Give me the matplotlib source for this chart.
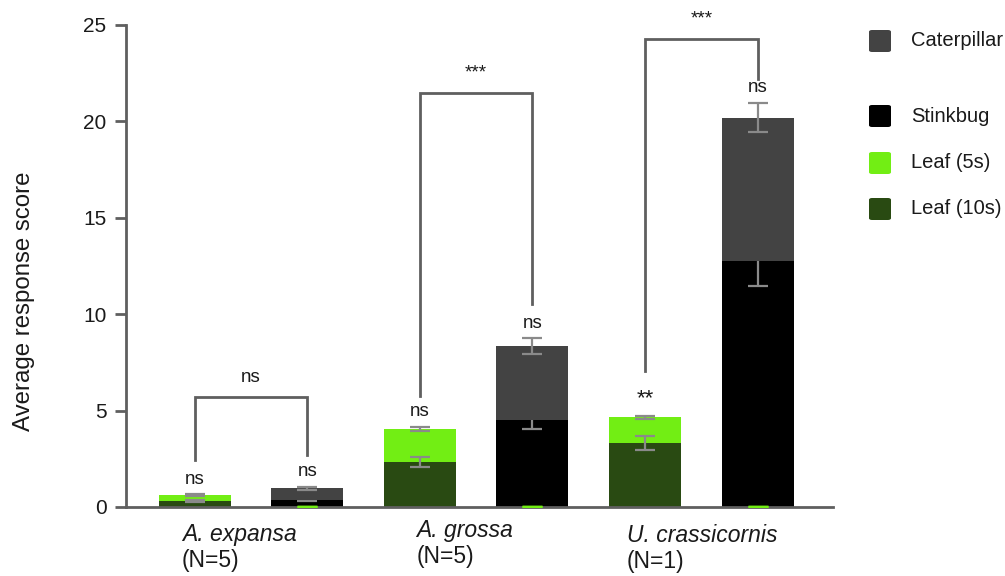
"""
Stacked bar chart of average response scores per species, with
leaf controls vs predator cues and significance brackets.
"""

import matplotlib
matplotlib.use("Agg")
import matplotlib.pyplot as plt
from matplotlib.patches import FancyBboxPatch

plt.rcParams['font.family'] = ['Liberation Sans', 'DejaVu Sans']

# --- data -------------------------------------------------------------
species = ["A. expansa", "A. grossa", "U. crassicornis"]
sample_sizes = ["(N=5)", "(N=5)", "(N=1)"]

# leaf control bar (stacked: 10s at bottom, 5s on top)
leaf10 = [0.30, 2.35, 3.32]
leaf10_err = [0.05, 0.25, 0.34]
leaf5 = [0.30, 1.69, 1.34]
leaf5_err = [0.05, 0.10, 0.08]

# predator bar (stacked: stinkbug at bottom, caterpillar on top)
stinkbug = [0.38, 4.50, 12.75]
stinkbug_err = [0.05, 0.47, 1.30]
caterpillar = [0.60, 3.84, 7.45]
caterpillar_err = [0.08, 0.41, 0.75]

# significance: (text, bracket top, left leg end, right leg end)
bracket_labels = ["ns", "***", "***"]
bracket_top = [5.70, 21.45, 24.25]
bracket_left_end = [2.43, 5.75, 7.05]
bracket_right_end = [2.70, 10.55, 22.20]
leaf_marks = ["ns", "ns", "**"]
predator_marks = ["ns", "ns", "ns"]

# --- styling ----------------------------------------------------------
C_CAT = "#434343"
C_STINK = "#000000"
C_LEAF5 = "#72ee14"
C_LEAF10 = "#294a12"
C_ERR = "#8a8a8a"
C_AXIS = "#5f5f5f"
C_TEXT = "#1a1a1a"
BAR_W = 0.64

fig = plt.figure(figsize=(10.05, 5.76), dpi=100)
ax = fig.add_axes([0.1254, 0.1198, 0.7035, 0.8368])

x_leaf = [2 * i for i in range(len(species))]
x_pred = [2 * i + 1 for i in range(len(species))]
leaf_top = [a + b for a, b in zip(leaf10, leaf5)]
pred_top = [a + b for a, b in zip(stinkbug, caterpillar)]

# leaf bars
ax.bar(x_leaf, leaf10, width=BAR_W, color=C_LEAF10, zorder=1)
ax.bar(x_leaf, leaf5, width=BAR_W, bottom=leaf10, color=C_LEAF5, zorder=1)
err_kw = dict(fmt='none', ecolor=C_ERR, elinewidth=1.6, capsize=7.5, capthick=1.6)
ax.errorbar(x_leaf, leaf10, yerr=leaf10_err, zorder=3, **err_kw)
ax.errorbar(x_leaf, leaf_top, yerr=leaf5_err, zorder=3, **err_kw)

# predator bars
ax.bar(x_pred, stinkbug, width=BAR_W, color=C_STINK, zorder=1)
ax.errorbar(x_pred, stinkbug, yerr=stinkbug_err, zorder=1.5, **err_kw)
ax.bar(x_pred, caterpillar, width=BAR_W, bottom=stinkbug, color=C_CAT, zorder=2)
ax.errorbar(x_pred, pred_top, yerr=caterpillar_err, zorder=3, **err_kw)
# zero-height leaf entry on predator bars shows only as a green cap
ax.errorbar(x_pred, [0] * len(x_pred), yerr=[0] * len(x_pred), fmt='none',
            ecolor=C_LEAF5, elinewidth=0, capsize=7.5, capthick=2.5, zorder=3)

# significance brackets
for i in range(len(species)):
    xl, xr = x_leaf[i], x_pred[i]
    ax.plot([xl, xl, xr, xr],
            [bracket_left_end[i], bracket_top[i], bracket_top[i], bracket_right_end[i]],
            color=C_AXIS, lw=2, solid_joinstyle='miter', clip_on=False, zorder=4)
    ax.text((xl + xr) / 2, bracket_top[i] + 0.6, bracket_labels[i],
            ha='center', va='bottom', fontsize=13.5, color=C_TEXT, clip_on=False)

for i in range(len(species)):
    ax.text(x_leaf[i], leaf_top[i] + leaf5_err[i] + 0.35, leaf_marks[i],
            ha='center', va='bottom', color=C_TEXT,
            fontsize=13.5 if leaf_marks[i] == "ns" else 16)
    ax.text(x_pred[i], pred_top[i] + caterpillar_err[i] + 0.35, predator_marks[i],
            ha='center', va='bottom', fontsize=13.5, color=C_TEXT)

# axes
ax.set_xlim(-0.61, 5.67)
ax.set_ylim(0, 25)
ax.set_yticks([0, 5, 10, 15, 20, 25])
ax.set_xticks([])
for side in ["top", "right"]:
    ax.spines[side].set_visible(False)
for side in ["left", "bottom"]:
    ax.spines[side].set_color(C_AXIS)
    ax.spines[side].set_linewidth(2)
ax.tick_params(axis='y', length=8, width=2, color=C_AXIS, labelsize=15,
               labelcolor=C_TEXT, pad=6)

fig.text(24 / 1005, 1 - 301 / 576, "Average response score", rotation=90,
         ha='center', va='center', fontsize=17.3, color=C_TEXT)

# category labels: italic species name over sample size
label_x = [-0.115, 1.97, 3.84]
line1_px = [541, 537, 542]   # baseline, pixels from top
line2_px = [567, 563, 568]
trans = ax.get_xaxis_transform()
for i in range(len(species)):
    ax.text(label_x[i], -(line1_px[i] - 507) / 482, species[i], transform=trans,
            ha='left', va='baseline', fontsize=16.5, style='italic', color=C_TEXT)
    ax.text(label_x[i], -(line2_px[i] - 507) / 482, sample_sizes[i], transform=trans,
            ha='left', va='baseline', fontsize=16.5, color=C_TEXT)

# legend drawn by hand (blank row after Caterpillar)
legend_names = ["Caterpillar", "Stinkbug", "Leaf (5s)", "Leaf (10s)"]
legend_colors = [C_CAT, C_STINK, C_LEAF5, C_LEAF10]
legend_y = [41, 116, 163, 209]
for name, col, yp in zip(legend_names, legend_colors, legend_y):
    fy = 1 - yp / 576
    fig.patches.append(FancyBboxPatch((869 / 1005, fy - 11 / 576), 22 / 1005, 22 / 576,
                                      boxstyle="round,pad=0,rounding_size=0.003",
                                      transform=fig.transFigure, facecolor=col,
                                      edgecolor='none'))
    fig.text(911 / 1005, fy, name, ha='left', va='center', fontsize=14.5, color=C_TEXT)

fig.savefig("out.png", dpi=100)
